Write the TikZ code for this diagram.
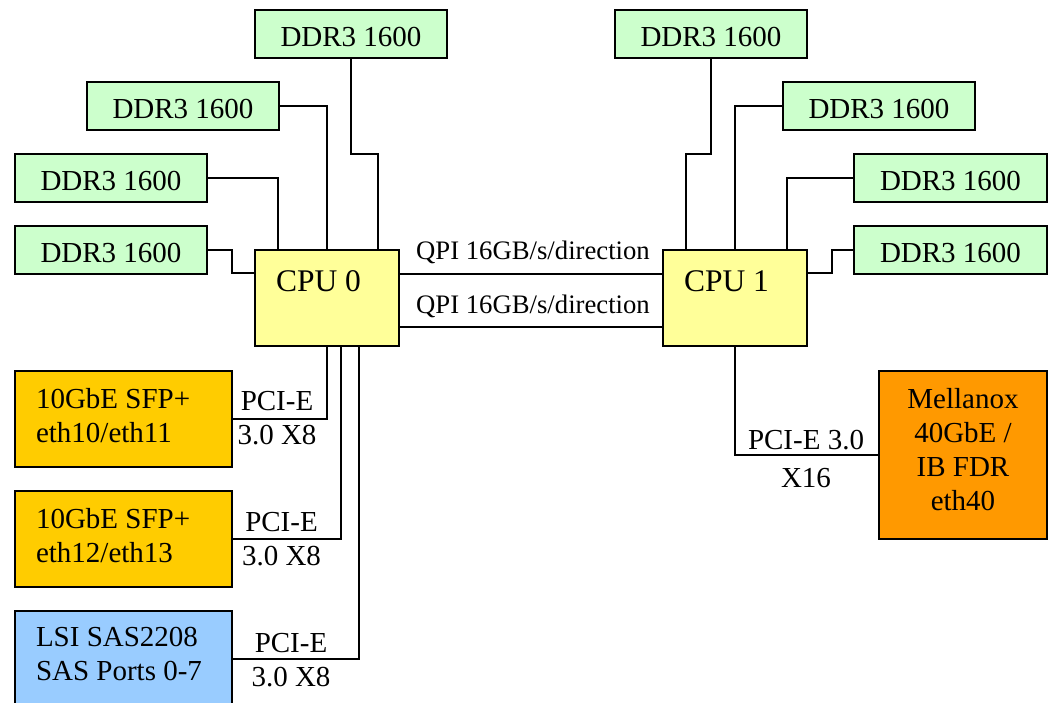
\documentclass[tikz,border=0pt]{standalone}
\usepackage{fontspec}
\setmainfont{Liberation Serif}
\definecolor{ddrgreen}{HTML}{CCFFCC}
\definecolor{cpuyellow}{HTML}{FFFF99}
\definecolor{ethorange}{HTML}{FFCC00}
\definecolor{sasblue}{HTML}{99CCFF}
\definecolor{mellorange}{HTML}{FF9900}
\tikzset{
  box/.style={draw=black, line width=2pt, inner sep=0pt, outer sep=0pt, font=\fontsize{29}{34}\selectfont},
  ddr/.style={box, fill=ddrgreen, minimum width=192pt, minimum height=48pt, text height=25.4pt, text depth=0pt},
  cpubox/.style={box, fill=cpuyellow, minimum width=144pt, minimum height=96pt, text width=102pt, align=flush left, text height=22pt, text depth=36pt, font=\fontsize{31.5}{36}\selectfont},
  nic/.style={box, minimum width=217pt, minimum height=96pt, text width=175pt, align=flush left, text height=20pt, text depth=41.4pt},
  lbl/.style={inner sep=0pt, outer sep=0pt, font=\fontsize{29}{34}\selectfont, text width=140pt, align=flush center, anchor=base},
  qpi/.style={inner sep=0pt, outer sep=0pt, font=\fontsize{26.7}{32}\selectfont, anchor=base},
  link/.style={draw=black, line width=2pt}
}
\begin{document}
\begin{tikzpicture}[x=1pt, y=-1pt]
\clip (0,0) rectangle (1051,703);
\fill[white] (0,0) rectangle (1051,703);
% CPUs
\node[cpubox] (cpu0) at (327,298) {CPU 0};
\node[cpubox] (cpu1) at (735,298) {CPU 1};
% DDR left
\node[ddr] (l4) at (351,34) {DDR3 1600};
\node[ddr] (l3) at (183,106) {DDR3 1600};
\node[ddr] (l2) at (111,178) {DDR3 1600};
\node[ddr] (l1) at (111,250) {DDR3 1600};
% DDR right
\node[ddr] (r4) at (711,34) {DDR3 1600};
\node[ddr] (r3) at (879,106) {DDR3 1600};
\node[ddr, minimum width=193pt] (r2) at (950.5,178) {DDR3 1600};
\node[ddr, minimum width=193pt] (r1) at (950.5,250) {DDR3 1600};
% devices
\node[nic, fill=ethorange] (e1) at (123.5,419) {10GbE SFP+\\eth10/eth11};
\node[nic, fill=ethorange] (e2) at (123.5,539) {10GbE SFP+\\eth12/eth13};
\node[nic, fill=sasblue, text depth=44.6pt] (sas) at (123.5,659) {LSI SAS2208\\SAS Ports 0-7};
\node[box, fill=mellorange, minimum width=168pt, minimum height=168pt, text width=150pt, align=flush center, text height=20pt, text depth=113.4pt] (mell) at (963,455) {Mellanox\\40GbE /\\IB FDR\\eth40};
% bend coordinates
\coordinate (l4bend) at (378,154);
\coordinate (l3x) at (327,0);
\coordinate (l2x) at (278,0);
\coordinate (l1bend) at (232,273);
\coordinate (r4bend) at (686,154);
\coordinate (r3x) at (735,0);
\coordinate (r2x) at (787,0);
\coordinate (r1bend) at (832,273);
\coordinate (qa) at (0,274);
\coordinate (qb) at (0,327);
\coordinate (p1x) at (327,0);
\coordinate (p2x) at (341,0);
\coordinate (p3x) at (359,0);
% memory links
\draw[link] (l4.south) |- (l4bend) -- (cpu0.north -| l4bend);
\draw[link] (l3.east) -| (cpu0.north -| l3x);
\draw[link] (l2.east) -| (cpu0.north -| l2x);
\draw[link] (l1.east) -| (l1bend) -- (cpu0.west |- l1bend);
\draw[link] (r4.south) |- (r4bend) -- (cpu1.north -| r4bend);
\draw[link] (r3.west) -| (cpu1.north -| r3x);
\draw[link] (r2.west) -| (cpu1.north -| r2x);
\draw[link] (r1.west) -| (r1bend) -- (cpu1.east |- r1bend);
% QPI
\draw[link] (cpu0.east |- qa) -- node[qpi, xshift=2pt, yshift=15pt] (qpi1) {QPI 16GB/s/direction} (cpu1.west |- qa);
\draw[link] (cpu0.east |- qb) -- node[qpi, xshift=2pt, yshift=14pt] (qpi2) {QPI 16GB/s/direction} (cpu1.west |- qb);
% PCI-E links
\draw[link] (e1.east) -| node[lbl, pos=0.25, xshift=-2.5pt, yshift=9pt] (pe1) {PCI-E\\3.0 X8} (cpu0.south -| p1x);
\draw[link] (e2.east) -| node[lbl, pos=0.25, xshift=-5pt, yshift=8pt] (pe2) {PCI-E\\3.0 X8} (cpu0.south -| p2x);
\draw[link] (sas.east) -| node[lbl, pos=0.25, xshift=-4.5pt, yshift=7pt] (pe3) {PCI-E\\3.0 X8} (cpu0.south -| p3x);
\draw[link] (cpu1.south) |- node[lbl, pos=0.75, xshift=-1pt, yshift=6pt] (pe4) {PCI-E 3.0\\[4pt]X16} (mell.west);
\end{tikzpicture}
\end{document}
